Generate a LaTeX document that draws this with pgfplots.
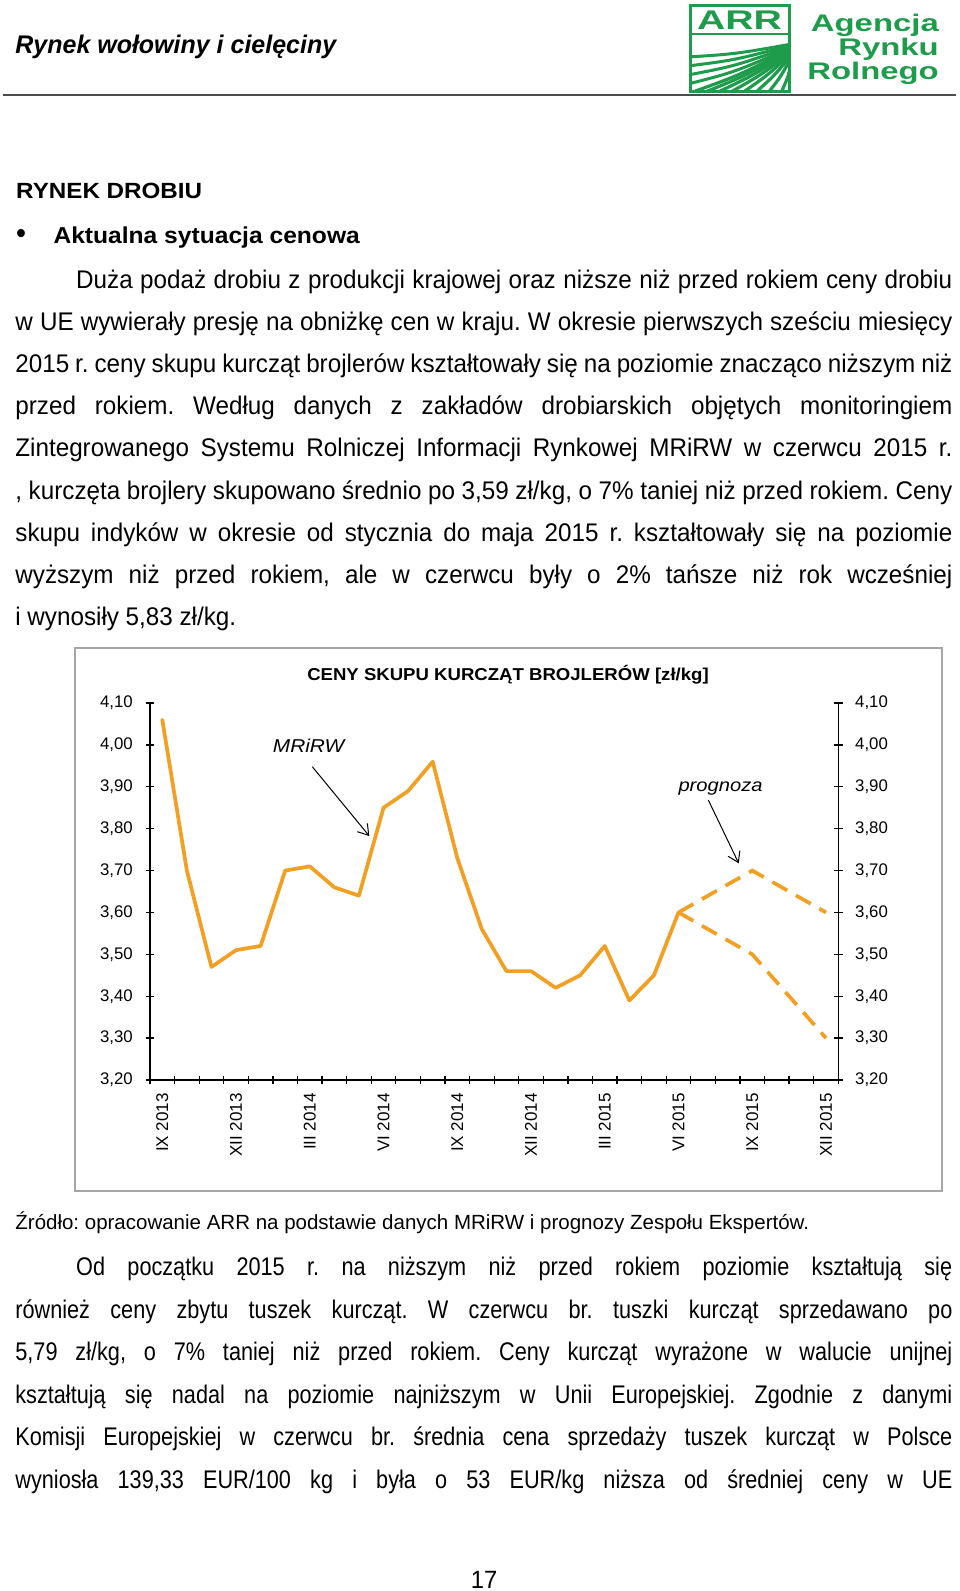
\documentclass[border=0pt]{standalone}
\usepackage{fontspec}
\setmainfont{Liberation Sans}
\newfontfamily\bodyfam{Liberation Sans}[FakeStretch=0.95]
\newfontfamily\lowfam{Liberation Sans}[FakeStretch=0.85]
\newfontfamily\srcfam{Liberation Sans}[FakeStretch=1.0]
\newfontfamily\headfam{Liberation Sans}[FakeStretch=1.1]
\newfontfamily\subfam{Liberation Sans}[FakeStretch=1.07]
\newfontfamily\hdrfam{Liberation Sans}[FakeStretch=0.98]
\newfontfamily\titlefam{Liberation Sans}[FakeStretch=1.08]
\newfontfamily\annfam{Liberation Sans}[FakeStretch=1.12]
\newfontfamily\logofam{Liberation Sans}[FakeStretch=1.37]
\newfontfamily\arrfam{Liberation Sans}[FakeStretch=1.45]
\usepackage{pgfplots}
\pgfplotsset{compat=1.18}
\usetikzlibrary{arrows.meta}
\definecolor{lineorange}{RGB}{241,160,35}
\definecolor{logogreen}{RGB}{30,155,75}
\definecolor{boxgray}{RGB}{166,166,166}
\newcommand{\jline}[3]{\node[anchor=base west, inner sep=0pt] at (#1) {\makebox[#2pt][s]{#3}};}
\frenchspacing
\begin{document}
\frenchspacing
\begin{tikzpicture}
\path[use as bounding box, fill=white] (0,0) rectangle (960pt,-1591pt);
\begin{scope}[x=1pt,y=-1pt]
% header
\node[anchor=base west, inner sep=0pt, font=\hdrfam\bfseries\itshape\fontsize{25.5}{30}\selectfont] at (15.2,53) {Rynek wołowiny i cielęciny};
\draw[line width=2pt, color=black!70] (3,95.4) -- (956,95.4);
% logo
\begin{scope}
\clip (690,5) rectangle (789,91);
\foreach \k in {0,...,7} {
  \draw[logogreen, line width=3.2pt] (690+13*\k,93) .. controls (740+7*\k,75) .. (792,48+1.2*\k);
}
\foreach \k in {1,...,4} {
  \draw[logogreen, line width=3pt] (688,93-9*\k) .. controls (735,78-6*\k) .. (792,48-1*\k);
}
\end{scope}
\draw[logogreen, line width=3pt] (690,5) rectangle (789,91);
\draw[logogreen, line width=2.5pt] (690,34) -- (789,34);
\node[anchor=base, inner sep=0pt, text=logogreen, font=\arrfam\bfseries\fontsize{27}{30}\selectfont] at (739.5,29.5) {ARR};
\begin{scope}[every node/.style={anchor=base east, inner sep=0pt, text=logogreen, font=\logofam\bfseries\fontsize{24}{28}\selectfont}]
\node at (939,31) {Agencja};
\node at (939,55.5) {Rynku};
\node at (939,79) {Rolnego};
\end{scope}
% headings
\node[anchor=base west, inner sep=0pt, font=\headfam\bfseries\fontsize{22}{26}\selectfont] at (16,198.3) {RYNEK DROBIU};
\node[anchor=base west, inner sep=0pt, font=\bodyfam\fontsize{30}{34}\selectfont] at (16,243) {•};
\node[anchor=base west, inner sep=0pt, font=\subfam\bfseries\fontsize{23}{27}\selectfont] at (53.3,243.3) {Aktualna sytuacja cenowa};
% upper body
\begin{scope}[every node/.append style={font=\bodyfam\fontsize{25.5}{30}\selectfont\frenchspacing}]
\jline{76,288}{876}{Duża podaż drobiu z produkcji krajowej oraz niższe niż przed rokiem ceny drobiu}
\jline{15.2,330.2}{937}{w UE wywierały presję na obniżkę cen w kraju. W okresie pierwszych sześciu miesięcy}
\jline{15.2,372.4}{937}{2015 r. ceny skupu kurcząt brojlerów kształtowały się na poziomie znacząco niższym niż}
\jline{15.2,414.6}{937}{przed rokiem. Według danych z zakładów drobiarskich objętych monitoringiem}
\jline{15.2,456.8}{937}{Zintegrowanego Systemu Rolniczej Informacji Rynkowej MRiRW w czerwcu 2015 r.}
\jline{15.2,499}{937}{, kurczęta brojlery skupowano średnio po 3,59 zł/kg, o 7\% taniej niż przed rokiem. Ceny}
\jline{15.2,541.2}{937}{skupu indyków w okresie od stycznia do maja 2015 r. kształtowały się na poziomie}
\jline{15.2,583.4}{937}{wyższym niż przed rokiem, ale w czerwcu były o 2\% tańsze niż rok wcześniej}
\node[anchor=base west, inner sep=0pt] at (15.2,625.6) {i wynosiły 5,83 zł/kg.};
\end{scope}
% chart frame and title
\draw[boxgray, line width=1.5pt] (75,648) rectangle (942,1191);
\node[anchor=base, inner sep=0pt, font=\titlefam\bfseries\fontsize{17.2}{20}\selectfont] at (508,680.7) {CENY SKUPU KURCZĄT BROJLERÓW [zł/kg]};
% source
\node[anchor=base west, inner sep=0pt, font=\srcfam\fontsize{20.5}{24}\selectfont\frenchspacing] at (15.2,1229) {Źródło: opracowanie ARR na podstawie danych MRiRW i prognozy Zespołu Ekspertów.};
% lower body
\begin{scope}[every node/.append style={font=\lowfam\fontsize{25.5}{30}\selectfont\frenchspacing}]
\jline{76,1275.4}{876}{Od początku 2015 r. na niższym niż przed rokiem poziomie kształtują się}
\jline{15.2,1318}{937}{również ceny zbytu tuszek kurcząt. W czerwcu br. tuszki kurcząt sprzedawano po}
\jline{15.2,1360.7}{937}{5,79 zł/kg, o 7\% taniej niż przed rokiem. Ceny kurcząt wyrażone w walucie unijnej}
\jline{15.2,1403.3}{937}{kształtują się nadal na poziomie najniższym w Unii Europejskiej. Zgodnie z danymi}
\jline{15.2,1445.9}{937}{Komisji Europejskiej w czerwcu br. średnia cena sprzedaży tuszek kurcząt w Polsce}
\jline{15.2,1488.5}{937}{wyniosła 139,33 EUR/100 kg i była o 53 EUR/kg niższa od średniej ceny w UE}
\end{scope}
\node[anchor=base, inner sep=0pt, font=\bodyfam\fontsize{25}{30}\selectfont] at (484,1588) {17};
\end{scope}
% ---- chart, left axis with data
\begin{axis}[
  at={(150pt,-1080pt)}, anchor=south west,
  scale only axis, width=688.3pt, height=377pt,
  xmin=-0.5, xmax=27.5, ymin=3.2, ymax=4.1,
  clip=false,
  axis x line=bottom, axis y line=left,
  axis line style={-, line width=1.3pt, black},
  xtick={0,3,6,9,12,15,18,21,24,27},
  xticklabels={IX 2013,XII 2013,III 2014,VI 2014,IX 2014,XII 2014,III 2015,VI 2015,IX 2015,XII 2015},
  minor xtick={-0.5,0.5,...,27.5},
  ytick={3.2,3.3,3.4,3.5,3.6,3.7,3.8,3.9,4.0,4.1},
  minor ytick={3.2,3.3,3.4,3.5,3.6,3.7,3.8,3.9,4.0,4.1},
  tick align=center,
  major tick length=0pt, minor tick length=8.5pt,
  every tick/.style={black, line width=1.3pt},
  every minor tick/.style={black, line width=1.3pt},
  xticklabel style={rotate=90, anchor=east, inner sep=0pt, font=\fontsize{17}{20}\selectfont},
  xticklabel shift=13pt,
  yticklabel style={inner sep=0pt, font=\fontsize{16.8}{20}\selectfont,
    /pgf/number format/.cd, fixed, fixed zerofill, precision=2, use comma, assume math mode=true},
  yticklabel shift=17pt,
]
\addplot[draw=lineorange, line width=3.7pt, line join=round, line cap=round, mark=none] coordinates {
(0,4.06) (1,3.70) (2,3.47) (3,3.51) (4,3.52) (5,3.70) (6,3.71) (7,3.66) (8,3.64) (9,3.85)
(10,3.89) (11,3.96) (12,3.73) (13,3.56) (14,3.46) (15,3.46) (16,3.42) (17,3.45) (18,3.52)
(19,3.39) (20,3.45) (21,3.60)};
\addplot[draw=lineorange, line width=3.7pt, dash pattern=on 17pt off 10pt, mark=none] coordinates {
(21,3.60) (24,3.70) (27,3.60)};
\addplot[draw=lineorange, line width=3.7pt, dash pattern=on 17pt off 10pt, mark=none] coordinates {
(21,3.60) (24,3.50) (27,3.30)};
\end{axis}
% ---- right axis
\begin{axis}[
  at={(150pt,-1080pt)}, anchor=south west,
  scale only axis, width=688.3pt, height=377pt,
  xmin=-0.5, xmax=27.5, ymin=3.2, ymax=4.1,
  axis x line=none, axis y line=right,
  axis line style={-, line width=1.3pt, black},
  ytick={3.2,3.3,3.4,3.5,3.6,3.7,3.8,3.9,4.0,4.1},
  minor ytick={3.2,3.3,3.4,3.5,3.6,3.7,3.8,3.9,4.0,4.1},
  tick align=center,
  major tick length=0pt, minor tick length=8.5pt,
  every tick/.style={black, line width=1.3pt},
  every minor tick/.style={black, line width=1.3pt},
  yticklabel style={inner sep=0pt, font=\fontsize{16.8}{20}\selectfont,
    /pgf/number format/.cd, fixed, fixed zerofill, precision=2, use comma, assume math mode=true},
  yticklabel shift=16.7pt,
]
\end{axis}
% annotations
\begin{scope}[x=1pt,y=-1pt]
\node[anchor=base west, inner sep=0pt, font=\annfam\itshape\fontsize{18.6}{22}\selectfont] at (272.7,752.7) {MRiRW};
\node[anchor=base west, inner sep=0pt, font=\annfam\itshape\fontsize{18}{22}\selectfont] at (678.3,791.7) {prognoza};
\draw[line width=1pt, -{Straight Barb[length=10pt, width=13pt]}] (312.3,766.7) -- (369.3,836);
\draw[line width=1pt, -{Straight Barb[length=10pt, width=13pt]}] (708.3,800) -- (738.7,863.3);
\end{scope}
\end{tikzpicture}
\end{document}
